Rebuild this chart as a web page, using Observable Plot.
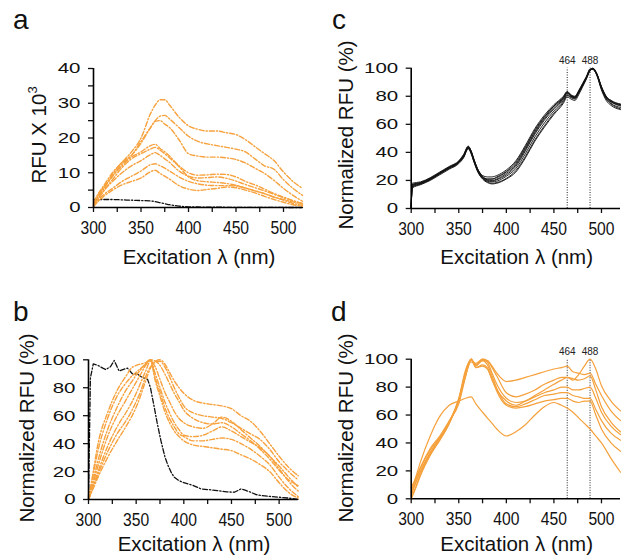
<!DOCTYPE html>
<html><head><meta charset="utf-8">
<script src="https://cdn.jsdelivr.net/npm/d3@7"></script>
<script src="https://cdn.jsdelivr.net/npm/@observablehq/plot@0.6"></script>
<style>
body{margin:0;background:#fff;}
#wrap{position:relative;width:621px;height:556px;overflow:hidden;font-family:"Liberation Sans",Arial,Helvetica,sans-serif;color:#111;}
.p{position:absolute;}
.t{position:absolute;white-space:nowrap;font-size:20.5px;line-height:1;transform:translate(-50%,-50%);}
.r{transform:translate(-50%,-50%) rotate(-90deg);}
.L{position:absolute;font-size:28px;line-height:1;}
sup{font-size:13px;position:relative;top:-1px;}
</style></head><body>
<div id="wrap">
  <div class="L" style="left:13px;top:6px">a</div>
  <div class="L" style="left:332px;top:6px">c</div>
  <div class="L" style="left:13px;top:298px">b</div>
  <div class="L" style="left:331px;top:298px">d</div>
  <div id="pa" class="p" style="left:0;top:40px"></div>
  <div id="pc" class="p" style="left:310px;top:40px"></div>
  <div id="pb" class="p" style="left:0;top:330px"></div>
  <div id="pd" class="p" style="left:310px;top:330px"></div>
  <div class="t" style="left:199px;top:257px">Excitation λ (nm)</div>
  <div class="t" style="left:516.7px;top:257px">Excitation λ (nm)</div>
  <div class="t" style="left:194px;top:544px">Excitation λ (nm)</div>
  <div class="t" style="left:516.7px;top:544px">Excitation λ (nm)</div>
  <div class="t r" style="left:38px;top:135px">RFU X 10<sup>3</sup></div>
  <div class="t r" style="left:345.5px;top:135px">Normalized RFU (%)</div>
  <div class="t r" style="left:27px;top:427.5px">Normalized RFU (%)</div>
  <div class="t r" style="left:345.5px;top:427.5px">Normalized RFU (%)</div>
</div>
<script>
// ---------- DATA ----------
const xTicks = [300,325,350,375,400,425,450,475,500];
const yTicksA = [0,5,10,15,20,25,30,35,40];
const yTicksN = [0,20,40,60,80,100];
const peakMarks = [464, 488];

// Panel a (RFU x 10^3)
const aWave = [300,305,310,320,330,340,350,360,365,370,375,380,390,400,410,420,430,440,450,460,470,480,490,500,510,520];
const a1 = [1.5,4,6,10,13,16,20,27,29.5,31,31,29.5,26,23.5,22.5,22,22,21.5,21,19.5,17.5,15.5,13.5,10.2,7.5,5.5];
const a2 = [1,3.5,5.5,9,12.5,15,18.5,23,25,26.3,26.5,25.5,23,20.5,19,18.3,17.8,17.3,16.8,16,14,12,11,8,5.5,3.5];
const a3 = [1,3.5,5.5,9.5,13,15,19,23,24.8,25,24,23,19.5,15.5,14.8,14.5,14.5,14.3,13.8,12.8,11.3,9.8,7.8,5.5,3.5,1.8];
const a4 = [0.8,3,5,9,12,14.5,16,17.8,18.2,17,16,14.8,12,10,9.3,9.4,9.6,9.5,8.8,7.5,6.5,5.3,4,3,2,1];
const a5 = [0.5,2.5,4.5,8,11.5,14,15.5,16.8,17.3,16.5,15.5,14.3,11.8,8.8,7.7,7.4,7.2,6.9,6.4,5.6,4.8,4,3,2.3,1.6,1];
const a6 = [0.5,2.5,4.5,7.5,10,12,13.5,15.2,15.8,15,14,13,10.5,9,8.5,8.6,8.8,8.4,7.6,6.6,5.7,4.8,3.8,2.8,1.9,1.2];
const a7 = [0.5,2,3.5,5.5,7.5,9,10.5,12.3,12.6,12,11.3,10.5,8.8,7.5,6.8,6.4,6.3,6.3,6.2,5.6,4.8,4,3,2.1,1.2,0.6];
const a8 = [0.3,1.8,3,5,6.5,7.5,8.5,10.3,10.7,9.8,9,8.2,6.3,5.3,4.9,5.2,5.5,5.9,5.7,5,4.2,3.2,2.3,1.5,0.8,0.4];
const aCtrl = [2.2,2.3,2.3,2.3,2.2,2.1,2,1.9,1.7,1.4,1.1,0.8,0.4,0.2,0.15,0.1,0.08,0.06,0.05,0.05,0.04,0.03,0.02,0.01,0,0];

// Panel b (normalized %)
const bWave = [300,305,310,320,330,340,345,350,355,360,365,370,375,380,385,390,395,400,410,420,430,440,450,460,470,480,490,500,510,520];
const b1 = [0,8,16,30,42,53,59,66,75,85,94,99,100,97,91,85,80,76,71,69,68,67,65,60,56,49,40,31,23,17];
const b2 = [0,9,18,34,47,57,63,70,78,88,95,98,99,95,88,80,73,67,62,60,59,58,55,51,47,43,36,27,20,14];
const b3 = [0,10,20,38,52,63,69,76,84,92,99,95,86,77,70,63,58,55,52,51,54,59,56,50,44,38,31,24,16,9];
const b4 = [0,12,24,45,60,72,78,84,90,96,100,90,80,70,62,55,50,46,45,46,49,52,49,45,41,37,31,22,13,6];
const b5 = [0,14,28,50,66,79,84,89,93,97,100,87,77,66,58,52,47,45,42,42,43,44,43,40,36,31,25,16,8,2];
const b6 = [0,18,35,58,74,84,88,91,94,97,100,85,74,63,55,49,45,42,39,38,37,36,35,32,29,25,20,12,5,1];
const b7 = [0,20,40,62,78,89,94,96,97,98,100,99,96,90,83,76,70,64,58,55,54,55,52,47,42,36,29,21,14,10];
const bCtrlWave = [300,302,305,310,315,318,323,327,332,336,341,346,351,355,358,362,365,369,372,376,380,383,387,390,395,400,410,418,427,435,445,453,457,460,465,470,476,481,490,499,510,520];
const bCtrl = [0,87,97,96,94,93,95,99.5,92,93,94,90,90,88,87,86,80,66,55,42,31,25,19,16,13.5,12,10,7.6,7,6.4,5.5,5.2,6.5,7.6,6.5,5.2,3.5,2.9,2.2,1.7,1,0];

// Panel c (normalized %)
const cWave = [300,301,310,320,330,340,350,355,360,363,366,370,375,380,385,390,400,410,420,430,440,450,460,464,468,472,476,480,484,488,491,495,500,505,510,520];
const c1 = [0,17,18.5,21.5,25.5,29.5,33.5,38,44,41,35,28,23.5,22.5,22.5,23.5,27.5,34,45,57,66.5,74,80,83.5,81,80,84,89,94,99,100,96.5,86.5,79.5,77,74];
const c2 = [0,15,17.5,20.5,25,28.5,32.5,36.5,43,39.5,33.5,26.5,21.5,19,18,18.5,21.5,27,37,49,59,68,76,80.5,79,78,82,87,92.5,98.5,99.5,95.5,85,78,74.5,71];
const c3 = [0,16,18,21,24.5,29,33,37,43.5,40,34,27,22,20,19.5,20.5,24,30,41,53,63,71,78,82,80,79,83,88,93,99,99.5,96,86,79,76,73];
const c4 = [0,18,19,22,26,30,34,38.5,44.5,41,35,28,23,21,21,22,26,32,43,55,65,73,79.5,83,80.5,79.5,83.5,88.5,93.5,99.5,99,96,87,80,77,74.5];
const c5 = [0,14.5,17,20,24,28,32,36,42.5,39,33,26,21,18.5,17.5,18,21,26,36,48,58,67,75,79.5,78,77,81,86.5,92,98,99.5,95,84.5,77,73.5,70.5];
const c6 = [0,16.5,18,21,25,29,33,37.5,43.5,40.5,34.5,27.5,22.5,21,21,22.5,26.5,33,44,56,65.5,73,79,82.5,80,79,83,88,93,99,100,96,86,79.5,76.5,73.5];
const c7 = [0,15.5,17.5,20.5,25,29,33,37,43,39.5,33.5,26.5,21.5,19.5,19,19.5,23,28.5,39,51,61,69.5,77,81,79.5,78.5,82.5,87.5,92.5,98.5,99.5,95.5,85.5,78.5,75,72];
const c8 = [0,17,18.5,21.5,25.5,29.5,33.5,37.5,44,40.5,34.5,27.5,22.5,20.5,20,21,25,31,42,54,64,72,78.5,82.5,80.5,79.5,83.5,88,93,99,99.5,96,86.5,79.5,76,74];

// Panel d (normalized %)
const dWave = [300,305,310,320,330,340,350,357,363,368,375,380,385,390,400,410,420,430,440,450,458,464,470,476,482,488,494,500,510,520];
const d1 = [2,12,20,33,44,55,70,88,100,96,99,99,95,90,84,85,87,89,91,93,94,95,91,90,89,90,82,74,63,56];
const d2 = [0,8,17,31,42,54,71,90,100,95,100,99,94,88,76,73,75,78,82,85,87,87,85,89,95,100,93,81,70,63];
const d3 = [4,12,20,33,43,55,72,92,100,94,95,93,85,78,70,67,70,74,78,82,85,87,86,85,86,88,78,66,55,48];
const d4 = [0,9,18,32,42,54,71,90,99,97,100,98,90,82,72,69,70,73,76,78,80,80,78,78,79,80,72,62,52,46];
const d5 = [6,14,22,35,44,55,70,88,98,96,99,96,88,79,68,66,68,71,74,75,76,76,74,73,72,72,64,56,47,42];
const d6 = [8,15,23,36,45,56,68,87,100,94,96,94,86,77,67,65,66,68,70,71,72,72,70,69,70,70,60,50,40,34];
const d7 = [5,16,27,45,59,67,70,72,73,68,62,58,54,50,45,48,53,60,66,69,67,65,62,58,54,50,45,40,29,19];

// ---------- DRAWING ----------
const FONT = '"Liberation Sans", Arial, Helvetica, sans-serif';
const ORANGE = "#f7a23e";
const DASHDOT = "5,2,1.3,2";

function rows(wave, list, tag) {
  const out = [];
  list.forEach((s, i) => s.forEach((v, j) => out.push({x: wave[j], y: v, s: tag + i})));
  return out;
}

function frameMarks(ydom, yticks, every) {
  return [
    Plot.axisX({ticks: xTicks, tickSize: 5, tickPadding: 8.5, strokeWidth: 1.3, label: null, fontSize: 18,
      tickFormat: d => d % 50 === 0 ? String(d) : ""}),
    Plot.axisY({ticks: yticks, tickSize: 5, tickPadding: 8, strokeWidth: 1.3, label: null, fontSize: 15.5,
      tickFormat: d => d % every === 0 ? String(d) : ""}),
    Plot.ruleY([ydom[0]], {x1: 300, x2: 520, stroke: "#000", strokeWidth: 1.6}),
    Plot.ruleX([300], {y1: ydom[0], y2: ydom[1], stroke: "#000", strokeWidth: 1.6})
  ];
}

function peakMarksFor() {
  return [
    Plot.ruleX(peakMarks, {y1: 0, y2: 100, stroke: "#222", strokeWidth: 1, strokeDasharray: "1,1.5"}),
    Plot.text(peakMarks, {x: d => d, y: 100, text: d => String(d), dy: -4, lineAnchor: "bottom", fontSize: 10, fill: "#222"})
  ];
}

// the reference's tick labels are drawn slightly stretched (y) / condensed (x)
function stretch(svg, selector, factor) {
  svg.querySelectorAll(selector).forEach(t => {
    const w = t.getComputedTextLength();
    if (w > 0) {
      t.setAttribute("textLength", (w * factor).toFixed(2));
      t.setAttribute("lengthAdjust", "spacingAndGlyphs");
    }
  });
}

function make(el, o) {
  const p = Plot.plot({
    width: o.w, height: o.h,
    marginLeft: o.ml, marginRight: o.mr, marginTop: o.mt, marginBottom: o.mb,
    x: {domain: [300, 520]}, y: {domain: o.ydom},
    style: {fontFamily: FONT, fontSize: "15.5px", color: "#111", background: "transparent", overflow: "visible"},
    marks: o.marks
  });
  document.getElementById(el).appendChild(p);
  stretch(p, 'g[aria-label="y-axis tick label"] text', 1.32);
  stretch(p, 'g[aria-label="x-axis tick label"] text', 0.87);
}

// a
make("pa", {w: 310, h: 245, ml: 93, mr: 8, mt: 28, mb: 78, ydom: [0, 40], marks: [
  Plot.line(rows(aWave, [aCtrl], "k"), {x: "x", y: "y", z: "s", stroke: "#111", strokeWidth: 1.3, strokeDasharray: DASHDOT, curve: "monotone-x"}),
  Plot.line(rows(aWave, [a1,a2,a3,a4,a5,a6,a7,a8], "o"), {x: "x", y: "y", z: "s", stroke: ORANGE, strokeWidth: 1.4, strokeDasharray: DASHDOT, curve: "monotone-x"}),
  ...frameMarks([0, 40], yTicksA, 10)
]});

// b
make("pb", {w: 310, h: 226, ml: 88, mr: 12.3, mt: 29.3, mb: 57, ydom: [0, 100], marks: [
  Plot.line(rows(bCtrlWave, [bCtrl], "k"), {x: "x", y: "y", z: "s", stroke: "#111", strokeWidth: 1.3, strokeDasharray: DASHDOT, curve: "linear"}),
  Plot.line(rows(bWave, [b1,b2,b3,b4,b5,b6,b7], "o"), {x: "x", y: "y", z: "s", stroke: ORANGE, strokeWidth: 1.4, strokeDasharray: DASHDOT, curve: "monotone-x"}),
  ...frameMarks([0, 100], yTicksN, 20)
]});

// c
make("pc", {w: 311, h: 245, ml: 100.7, mr: 1, mt: 27.7, mb: 77, ydom: [0, 100], marks: [
  ...peakMarksFor(),
  Plot.line(rows(cWave, [c1,c2,c3,c4,c5,c6,c7,c8], "c"), {x: "x", y: "y", z: "s", stroke: "#111", strokeWidth: 0.9, curve: "monotone-x"}),
  ...frameMarks([0, 100], yTicksN, 20)
]});

// d
make("pd", {w: 311, h: 226, ml: 100.7, mr: 1, mt: 28.7, mb: 57.7, ydom: [0, 100], marks: [
  ...peakMarksFor(),
  Plot.line(rows(dWave, [d1,d2,d3,d4,d5,d6,d7], "d"), {x: "x", y: "y", z: "s", stroke: "#f5a13c", strokeWidth: 1.2, curve: "monotone-x"}),
  ...frameMarks([0, 100], yTicksN, 20)
]});
</script>
</body></html>
